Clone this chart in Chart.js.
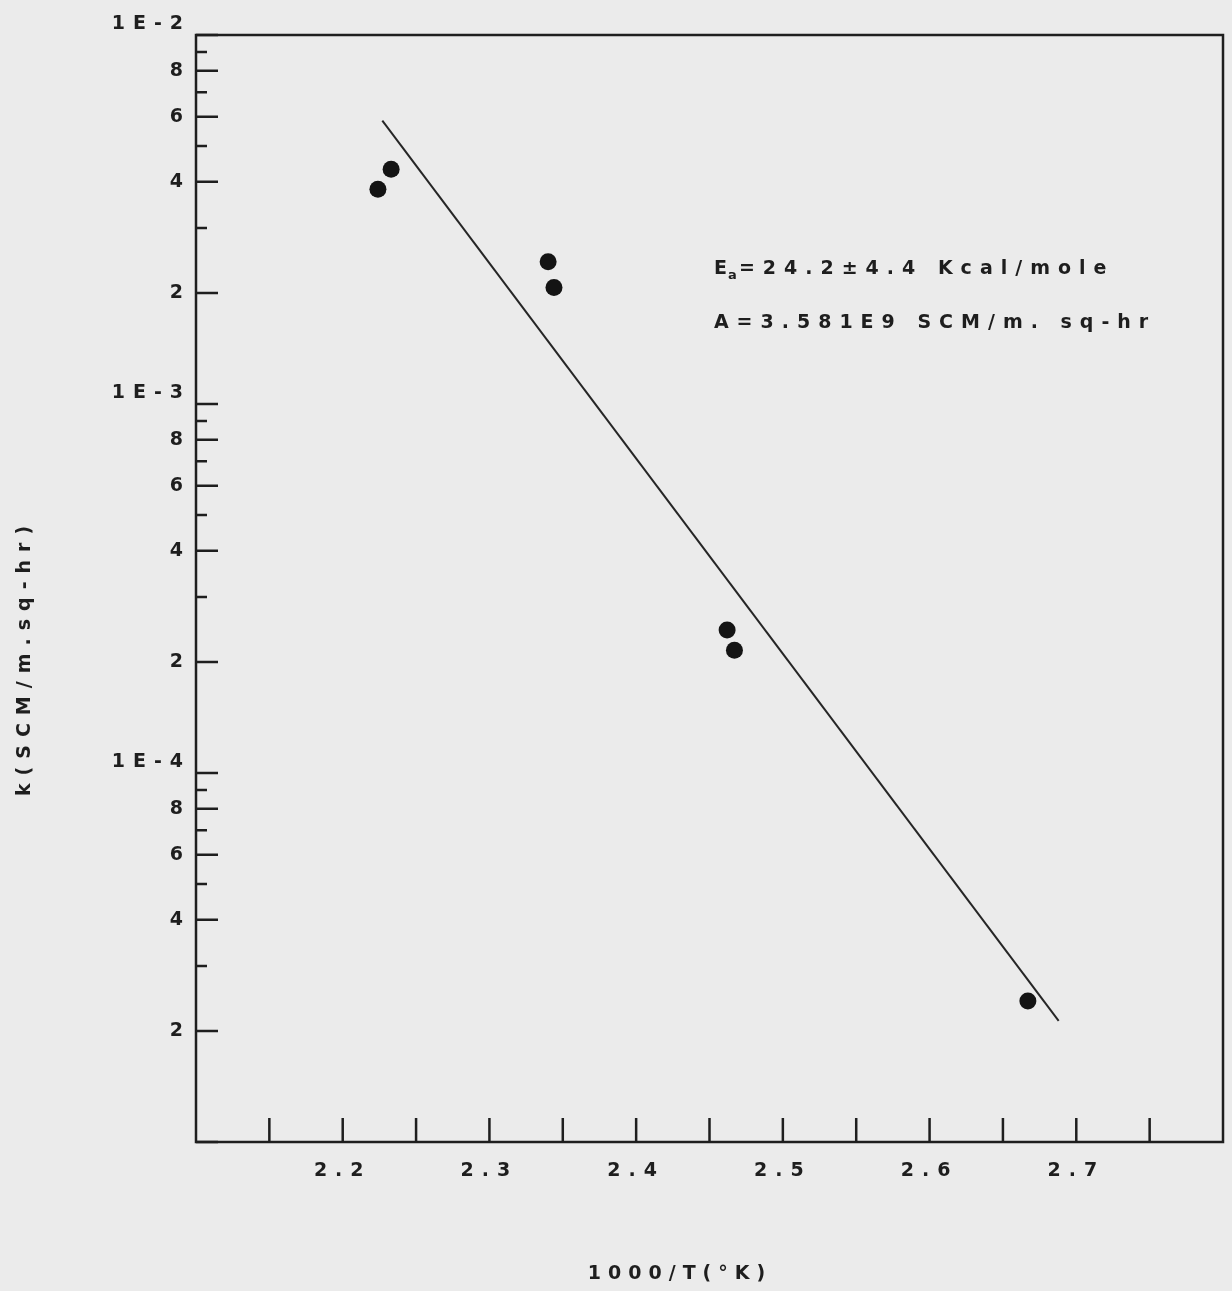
<!DOCTYPE html>
<html>
<head>
<meta charset="utf-8">
<title>Arrhenius plot</title>
<script src="https://cdn.jsdelivr.net/npm/chart.js@4.4.1/dist/chart.umd.min.js"></script>
<style>
  html, body { margin: 0; padding: 0; background: #ebebeb; }
  #wrap { width: 1232px; height: 1291px; position: relative; }
</style>
</head>
<body>
<div id="wrap"><canvas id="arrhenius"></canvas></div>
<script>
/*===== DATA =====*/

// measured rate constants, 1000/T vs k
var invTemp = [2.224, 2.233, 2.340, 2.344, 2.462, 2.467, 2.667];
var rateK = [3.82e-3, 4.33e-3, 2.43e-3, 2.07e-3, 2.44e-4, 2.15e-4, 2.41e-5];

// fitted line, its two end points
var fitInvTemp = [2.227, 2.688];
var fitRateK = [5.86e-3, 2.13e-5];

// axes
var xLabelTicks = [2.2, 2.3, 2.4, 2.5, 2.6, 2.7];
var xMarkTicks = [2.15, 2.2, 2.25, 2.3, 2.35, 2.4, 2.45, 2.5, 2.55, 2.6, 2.65, 2.7, 2.75];
var yLabelTicks = [2e-5, 4e-5, 6e-5, 8e-5, 1e-4, 2e-4, 4e-4, 6e-4, 8e-4, 1e-3, 2e-3, 4e-3, 6e-3, 8e-3, 1e-2];
var yDecades = [1e-5, 1e-4, 1e-3];
var yMantissas = [1, 2, 3, 4, 5, 6, 7, 8, 9];
var longMantissas = [1, 2, 4, 6, 8];

var noteEa = "=24.2\u00b14.4 Kcal/mole";
var noteA = "A=3.581E9 SCM/m. sq-hr";
var xTitle = "1000/T(\u00b0K)";
var yTitle = "k(SCM/m.sq-hr)";

/*===== STYLE =====*/

var paper = "#ebebeb";
var ink = "#1e1e1e";
var fam = "'DejaVu Sans', sans-serif";

function mantissa(v) {
    var e = Math.floor(Math.log10(v) + 1e-9);
    return { m: Math.round(v / Math.pow(10, e)), e: e };
}

/*===== PLUGIN: paper, frame, inward ticks, notes =====*/

var paperPlugin = {
    id: "paper",
    beforeDraw: function(chart) {
        var ctx = chart.ctx;
        ctx.save();
        ctx.fillStyle = paper;
        ctx.fillRect(0, 0, chart.width, chart.height);
        ctx.restore();
        ctx.letterSpacing = "8px";
    },
    afterDraw: function(chart) {
        var ctx = chart.ctx;
        var a = chart.chartArea;
        var xs = chart.scales.x;
        var ys = chart.scales.y;

        ctx.save();
        ctx.strokeStyle = ink;
        ctx.lineWidth = 2.5;
        ctx.strokeRect(a.left, a.top, a.right - a.left, a.bottom - a.top);

        ctx.beginPath();
        xMarkTicks.forEach(function(v) {
            var px = xs.getPixelForValue(v);
            ctx.moveTo(px, a.bottom);
            ctx.lineTo(px, a.bottom - 24);
        });
        var marks = [1e-2];
        yDecades.forEach(function(d) {
            yMantissas.forEach(function(m) { marks.push(m * d); });
        });
        marks.forEach(function(v) {
            var py = ys.getPixelForValue(v);
            var len = longMantissas.indexOf(mantissa(v).m) >= 0 ? 22 : 11;
            ctx.moveTo(a.left, py);
            ctx.lineTo(a.left + len, py);
        });
        ctx.stroke();

        ctx.fillStyle = ink;
        ctx.textBaseline = "middle";
        ctx.textAlign = "left";

        // Ea / A note
        var nx = xs.getPixelForValue(2.453);
        var ny1 = ys.getPixelForValue(2.32e-3);
        var ny2 = ys.getPixelForValue(1.66e-3);
        ctx.letterSpacing = "8px";
        ctx.font = "bold 19px " + fam;
        ctx.fillText("E", nx, ny1);
        ctx.letterSpacing = "0px";
        ctx.font = "bold 13px " + fam;
        ctx.fillText("a", nx + 14, ny1 + 6);
        ctx.letterSpacing = "8px";
        ctx.font = "bold 19px " + fam;
        ctx.fillText(noteEa, nx + 25, ny1);
        ctx.fillText(noteA, nx, ny2);

        // axis titles
        ctx.letterSpacing = "7px";
        ctx.textAlign = "center";
        ctx.fillText(xTitle, 680, 1274);
        ctx.translate(25, 657);
        ctx.rotate(-Math.PI / 2);
        ctx.letterSpacing = "8px";
        ctx.fillText(yTitle, 0, 0);
        ctx.restore();
    }
};

/*===== CHART =====*/

var tickFont = { family: fam, size: 19, weight: "bold" };

new Chart("arrhenius", {
    type: "scatter",
    data: {
        datasets: [{
            label: "measured",
            data: invTemp.map(function(t, i) { return { x: t, y: rateK[i] }; }),
            pointRadius: 8.5,
            pointBackgroundColor: "#141414",
            pointBorderWidth: 0,
            showLine: false
        }, {
            label: "fit",
            data: fitInvTemp.map(function(t, i) { return { x: t, y: fitRateK[i] }; }),
            showLine: true,
            borderColor: "#262626",
            borderWidth: 2,
            pointRadius: 0,
            fill: false
        }]
    },
    options: {
        responsive: true,
        maintainAspectRatio: false,
        animation: false,
        layout: { padding: { top: 35, right: 9, left: 0, bottom: 0 } },
        plugins: {
            legend: { display: false },
            tooltip: { enabled: false }
        },
        scales: {
            x: {
                type: "linear",
                min: 2.1,
                max: 2.8,
                grid: { display: false, drawTicks: false },
                border: { display: false },
                afterBuildTicks: function(s) { s.ticks = xLabelTicks.map(function(v) { return { value: v }; }); },
                afterFit: function(s) { s.height = 149; },
                ticks: {
                    autoSkip: false, maxRotation: 0, minRotation: 0, padding: 18,
                    color: ink, font: tickFont,
                    callback: function(v) { return v.toFixed(1); }
                }
            },
            y: {
                type: "logarithmic",
                min: 1e-5,
                max: 1e-2,
                grid: { display: false, drawTicks: false },
                border: { display: false },
                afterBuildTicks: function(s) { s.ticks = yLabelTicks.map(function(v) { return { value: v }; }); },
                afterFit: function(s) { s.width = 196; },
                ticks: {
                    autoSkip: false, padding: 5,
                    color: ink, font: tickFont,
                    callback: function(v) {
                        var t = mantissa(v);
                        if (t.m === 1) return ["1E" + t.e, ""];
                        return String(t.m);
                    }
                }
            }
        }
    },
    plugins: [paperPlugin]
});
</script>
</body>
</html>
